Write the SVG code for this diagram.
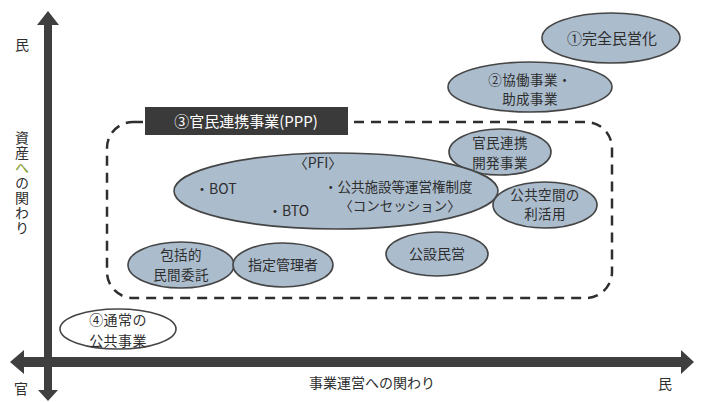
<svg xmlns="http://www.w3.org/2000/svg" width="701" height="402" viewBox="0 0 701 402">
<style>
text{font-family:"Noto Sans CJK JP","Noto Sans",sans-serif;fill:#2e2e2e;}
.t{font-size:14px;text-anchor:middle;}
.t2{font-size:13.5px;text-anchor:middle;letter-spacing:0.4px;}
.lab{font-size:14px;text-anchor:middle;}
.blue{fill:#abbccd;stroke:#454545;stroke-width:1.6;}
.white{fill:#ffffff;stroke:#454545;stroke-width:1.6;}
.axis{fill:#3f3f3f;}
</style>
<rect width="701" height="402" fill="#ffffff"/>
<g id="axes">
<rect class="axis" x="44" y="22" width="8" height="370"/>
<polygon class="axis" points="37,25 48,11 59,25"/>
<polygon class="axis" points="38,390 48,401 58,390"/>
<rect class="axis" x="20" y="357" width="664" height="10"/>
<polygon class="axis" points="24,350 10,362 24,374"/>
<polygon class="axis" points="681,350 694,362 681,374"/>
</g>
<g id="axis-labels">
<text class="lab" x="22" y="50">民</text>
<text class="lab" x="21" y="394">官</text>
<text class="lab" x="665" y="389">民</text>
<text class="lab" x="372" y="388">事業運営への関わり</text>
<text x="22" y="131" style="font-size:14px;writing-mode:vertical-rl;letter-spacing:1px">資産<tspan style="fill:#7f9a2c">へ</tspan>の関わり</text>
</g>
<g id="connectors">
<rect x="107" y="122" width="505" height="176" rx="26" ry="26" fill="none" stroke="#2e2e2e" stroke-width="2.5" stroke-dasharray="10,7"/>
</g>
<g id="ppp-label">
<rect x="145" y="107" width="203" height="28" fill="#3a3a3a"/>
<text x="246" y="127" style="font-size:15px;text-anchor:middle;fill:#ffffff">③官民連携事業(PPP)</text>
</g>
<g id="n1">
<ellipse class="blue" cx="611" cy="38" rx="69" ry="25"/>
<text class="t" x="612" y="44" style="font-size:15px">①完全民営化</text>
</g>
<g id="n2">
<ellipse class="blue" cx="530" cy="87" rx="82" ry="25"/>
<text class="t2" x="530" y="84.5">②協働事業・<tspan x="530" dy="19.7">助成事業</tspan></text>
</g>
<g id="n-kaihatsu">
<ellipse class="blue" cx="500" cy="152" rx="51" ry="23"/>
<text class="t2" x="500" y="148">官民連携<tspan x="500" dy="19.7">開発事業</tspan></text>
</g>
<g id="n-pfi">
<ellipse class="blue" cx="336" cy="191" rx="162" ry="38"/>
<text class="t" x="318" y="168">〈PFI〉</text>
<text x="195" y="194" style="font-size:14px">・BOT</text>
<text x="268" y="216" style="font-size:14px">・BTO</text>
<text x="324" y="191.5" style="font-size:13.5px">・公共施設等運営権制度<tspan x="400" dy="19.7" text-anchor="middle">〈コンセッション〉</tspan></text>
</g>
<g id="n-kukan">
<ellipse class="blue" cx="545" cy="205" rx="52" ry="23"/>
<text class="t2" x="545" y="199.5">公共空間の<tspan x="545" dy="19.7">利活用</tspan></text>
</g>
<g id="n-kosetsu">
<ellipse class="blue" cx="437" cy="254" rx="51" ry="22"/>
<text class="t" x="437" y="259">公設民営</text>
</g>
<g id="n-hokatsu">
<ellipse class="blue" cx="181" cy="265" rx="53" ry="23"/>
<text class="t2" x="181" y="260">包括的<tspan x="181" dy="19.7">民間委託</tspan></text>
</g>
<g id="n-shitei">
<ellipse class="blue" cx="283" cy="265" rx="50" ry="22"/>
<text class="t" x="283" y="270">指定管理者</text>
</g>
<g id="n4">
<ellipse class="white" cx="118" cy="329" rx="58" ry="20"/>
<text class="t2" x="118" y="325" style="font-size:14px">④通常の<tspan x="118" dy="20.5">公共事業</tspan></text>
</g>
</svg>
